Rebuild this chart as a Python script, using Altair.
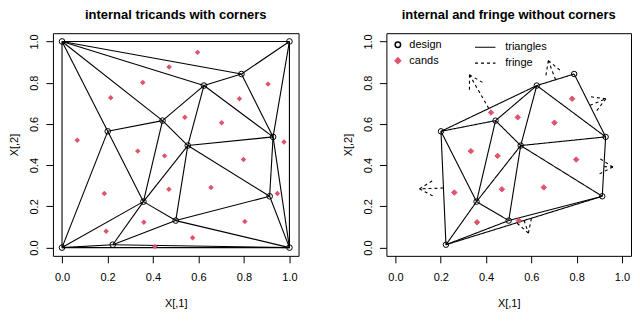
import altair as alt
import numpy as np
import pandas as pd

# ---------------- data ----------------
point_names = ["P1", "P2", "P3", "P4", "P5", "P6", "P7", "P8", "P9", "P10"]
design_x = [0.789, 0.624, 0.442, 0.201, 0.553, 0.928, 0.913, 0.358, 0.500, 0.223]
design_y = [0.842, 0.786, 0.616, 0.564, 0.495, 0.537, 0.249, 0.223, 0.131, 0.014]

corner_names = ["A", "B", "C", "D"]
corner_x = [0.0, 1.0, 0.0, 1.0]
corner_y = [1.0, 1.0, 0.0, 0.0]

# left panel: triangulation edges (with corners)
left_edges = [("A", "B"), ("B", "D"), ("D", "C"), ("C", "A"), ("A", "P1"), ("A", "P2"),
              ("A", "P3"), ("A", "P4"), ("B", "P1"), ("B", "P6"), ("C", "P4"), ("C", "P8"),
              ("C", "P10"), ("D", "P10"), ("D", "P9"), ("D", "P7"), ("D", "P6"), ("P1", "P2"),
              ("P1", "P6"), ("P2", "P3"), ("P2", "P5"), ("P2", "P6"), ("P3", "P4"), ("P3", "P5"),
              ("P3", "P8"), ("P4", "P8"), ("P5", "P6"), ("P5", "P7"), ("P5", "P9"), ("P5", "P8"),
              ("P6", "P7"), ("P7", "P9"), ("P8", "P9"), ("P8", "P10"), ("P9", "P10")]

# right panel: triangulation edges (without corners)
right_edges = [("P4", "P2"), ("P4", "P3"), ("P2", "P1"), ("P1", "P6"), ("P2", "P6"), ("P2", "P3"),
               ("P2", "P5"), ("P3", "P5"), ("P5", "P6"), ("P5", "P7"), ("P6", "P7"), ("P5", "P9"),
               ("P5", "P8"), ("P3", "P8"), ("P4", "P8"), ("P4", "P10"), ("P8", "P10"), ("P8", "P9"),
               ("P9", "P10"), ("P10", "P7"), ("P9", "P7")]

# candidates
cand_left_x = [0.596, 0.471, 0.355, 0.214, 0.067, 0.906, 0.780, 0.540, 0.702, 0.976, 0.333,
               0.451, 0.798, 0.186, 0.470, 0.655, 0.947, 0.360, 0.804, 0.194, 0.574, 0.408]
cand_left_y = [0.947, 0.876, 0.801, 0.727, 0.521, 0.793, 0.722, 0.632, 0.606, 0.512, 0.468,
               0.445, 0.427, 0.262, 0.283, 0.292, 0.262, 0.123, 0.127, 0.079, 0.048, 0.005]

cand_right_x = [0.422, 0.540, 0.702, 0.780, 0.333, 0.451, 0.798, 0.260, 0.470, 0.655, 0.360, 0.545]
cand_right_y = [0.655, 0.632, 0.606, 0.722, 0.468, 0.445, 0.427, 0.267, 0.283, 0.292, 0.123, 0.131]

# fringe arrows: from hull-edge midpoint to tip
fringe_x0 = [0.412, 0.707, 0.859, 0.921, 0.568, 0.212]
fringe_y0 = [0.675, 0.814, 0.690, 0.393, 0.132, 0.289]
fringe_x1 = [0.327, 0.675, 0.929, 0.960, 0.587, 0.106]
fringe_y1 = [0.838, 0.907, 0.722, 0.391, 0.070, 0.285]

tick_values = [0.0, 0.2, 0.4, 0.6, 0.8, 1.0]

# ---------------- layout / style ----------------
W_L, W_R, H = 246, 245, 223
DOM = [-0.04, 1.04]
RED = "#DF536B"
FONT = "Liberation Sans"
ARROW_LEN = 15.0  # px
ARROW_ANG = np.deg2rad(30)

coords = {n: (x, y) for n, x, y in zip(point_names, design_x, design_y)}
coords.update({n: (x, y) for n, x, y in zip(corner_names, corner_x, corner_y)})


def edge_frame(edges, kind):
    rows = []
    for a, b in edges:
        rows.append(dict(x=coords[a][0], y=coords[a][1], x2=coords[b][0], y2=coords[b][1], type=kind))
    return rows


def arrow_rows(w):
    sx = w / (DOM[1] - DOM[0])
    sy = H / (DOM[1] - DOM[0])
    rows = []
    for x0, y0, x1, y1 in zip(fringe_x0, fringe_y0, fringe_x1, fringe_y1):
        rows.append(dict(x=x0, y=y0, x2=x1, y2=y1, type="fringe"))
        vx, vy = (x0 - x1) * sx, (y0 - y1) * sy
        n = np.hypot(vx, vy)
        vx, vy = vx / n, vy / n
        for a in (ARROW_ANG, -ARROW_ANG):
            rx = vx * np.cos(a) - vy * np.sin(a)
            ry = vx * np.sin(a) + vy * np.cos(a)
            rows.append(dict(x=x1, y=y1, x2=x1 + rx * ARROW_LEN / sx, y2=y1 + ry * ARROW_LEN / sy,
                             type="fringe"))
    return rows


def xy_axes():
    xa = alt.Axis(values=tick_values, format=".1f", title="X[,1]", tickSize=7, labelPadding=9,
                  titlePadding=15, grid=False, domain=False)
    ya = alt.Axis(values=tick_values, format=".1f", title="X[,2]", tickSize=7, labelPadding=6,
                  titlePadding=9, grid=False, domain=False, labelAngle=270, labelAlign="center",
                  labelBaseline="bottom")
    return xa, ya


xs = alt.Scale(domain=DOM, nice=False, zero=False)
ys = alt.Scale(domain=DOM, nice=False, zero=False)

# ---------------- left panel ----------------
left_seg = pd.DataFrame(edge_frame(left_edges, "triangles"))
left_design = pd.DataFrame({"x": design_x + corner_x, "y": design_y + corner_y})
left_cands = pd.DataFrame({"x": cand_left_x, "y": cand_left_y})

xa, ya = xy_axes()
l_lines = alt.Chart(left_seg).mark_rule(color="black", strokeWidth=1.1).encode(
    x=alt.X("x:Q", scale=xs, axis=xa), y=alt.Y("y:Q", scale=ys, axis=ya), x2="x2:Q", y2="y2:Q")
l_design = alt.Chart(left_design).mark_point(shape="circle", size=32, color="black", filled=False,
                                             strokeWidth=1, opacity=1).encode(x="x:Q", y="y:Q")
l_cands = alt.Chart(left_cands).mark_point(shape="diamond", size=30, color=RED, filled=True,
                                           opacity=1).encode(x="x:Q", y="y:Q")
left = alt.layer(l_lines, l_design, l_cands).properties(
    width=W_L, height=H,
    title=alt.Title("internal tricands with corners", fontSize=13, fontWeight="bold", offset=11))

# ---------------- right panel ----------------
right_seg = pd.DataFrame(edge_frame(right_edges, "triangles") + arrow_rows(W_R))
right_pts = pd.DataFrame({
    "x": design_x + cand_right_x,
    "y": design_y + cand_right_y,
    "kind": ["design"] * len(design_x) + ["cands"] * len(cand_right_x),
})

xa2, ya2 = xy_axes()
r_lines = alt.Chart(right_seg).mark_rule(color="black", strokeWidth=1.1).encode(
    x=alt.X("x:Q", scale=xs, axis=xa2), y=alt.Y("y:Q", scale=ys, axis=ya2), x2="x2:Q", y2="y2:Q",
    strokeDash=alt.StrokeDash("type:N", scale=alt.Scale(domain=["triangles", "fringe"],
                                                        range=[[1, 0], [3, 3]]),
                              legend=alt.Legend(title=None, orient="none", legendX=88, legendY=3,
                                                symbolType="stroke", symbolSize=420,
                                                symbolStrokeWidth=1.1, symbolStrokeColor="black",
                                                labelOffset=9, rowPadding=-10, padding=0)))

kind_dom = ["design", "cands"]
kind_legend = alt.Legend(title=None, orient="none", legendX=6, legendY=6,
                         labelOffset=6, rowPadding=3, padding=0, symbolSize=30)
r_pts = alt.Chart(right_pts).mark_point(strokeWidth=1, opacity=1, size=30).encode(
    x="x:Q", y="y:Q",
    shape=alt.Shape("kind:N", scale=alt.Scale(domain=kind_dom, range=["circle", "diamond"]),
                    legend=kind_legend),
    stroke=alt.Stroke("kind:N", scale=alt.Scale(domain=kind_dom, range=["black", RED]),
                      legend=kind_legend),
    fill=alt.Fill("kind:N", scale=alt.Scale(domain=kind_dom, range=["transparent", RED]),
                  legend=kind_legend),
)
right = alt.layer(r_lines, r_pts).properties(
    width=W_R, height=H,
    title=alt.Title("internal and fringe without corners", fontSize=13, fontWeight="bold", offset=11))

chart = alt.hconcat(left, right, spacing=42).properties(padding=0).resolve_scale(
    shape="independent", stroke="independent", fill="independent", strokeDash="independent"
).resolve_legend(
    shape="independent", stroke="independent", fill="independent", strokeDash="independent"
).configure_view(
    stroke="black", strokeWidth=1
).configure_axis(
    labelFont=FONT, labelFontSize=11, labelColor="black", titleFont=FONT, titleFontSize=11,
    titleColor="black", titleFontWeight="normal", tickColor="black", tickWidth=1
).configure_title(
    font=FONT, color="black", anchor="middle"
).configure_legend(
    labelFont=FONT, labelFontSize=11, labelColor="black"
)

chart.save("out.html", embed_options={"renderer": "svg", "actions": False})
